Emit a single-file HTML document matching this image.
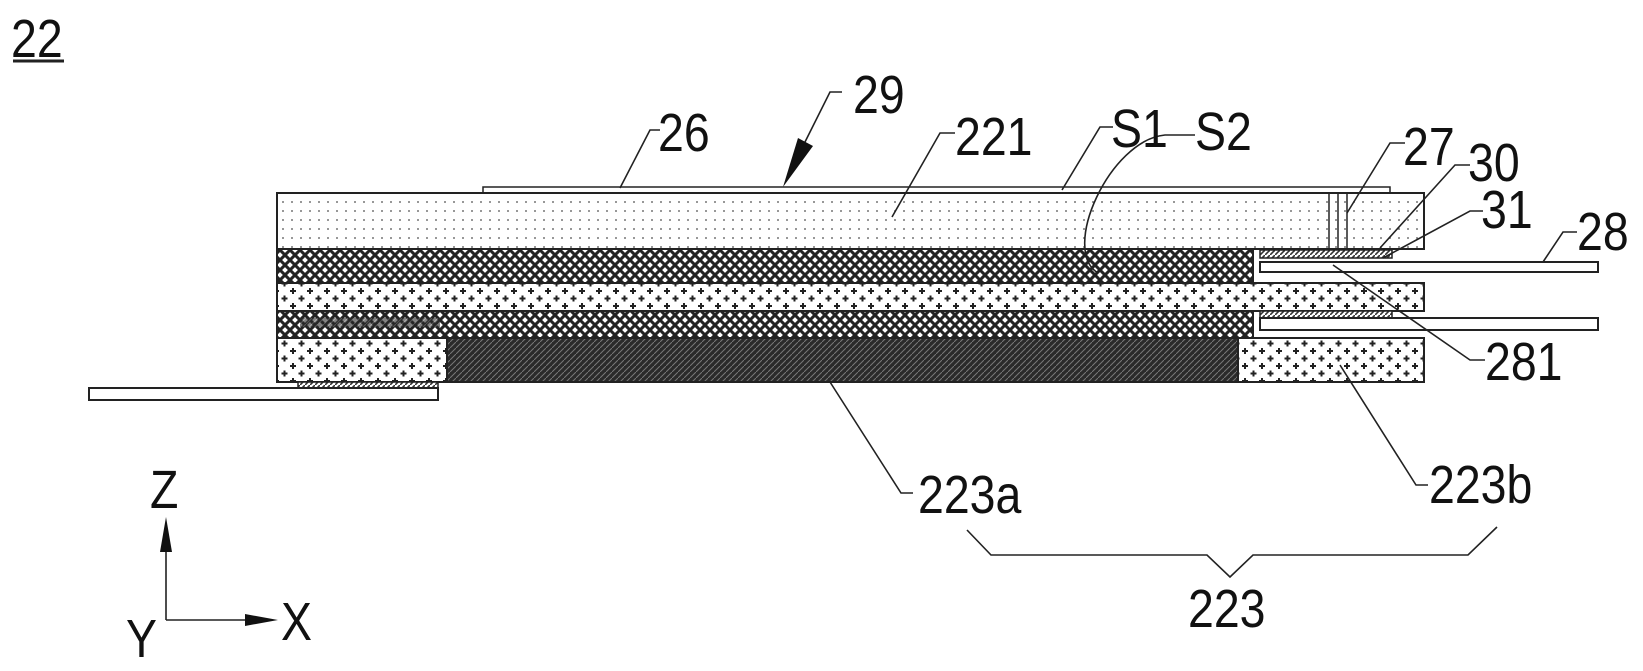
<!DOCTYPE html>
<html><head><meta charset="utf-8"><style>
html,body{margin:0;padding:0;background:#fff;}
svg{display:block;}
text{font-family:"Liberation Sans",sans-serif;font-size:54px;fill:#111;transform-box:fill-box;transform-origin:left bottom;transform:scaleX(0.86);}
</style></head><body>
<svg width="1643" height="671" viewBox="0 0 1643 671" xmlns="http://www.w3.org/2000/svg">
<defs>
<pattern id="fd" width="9" height="9" patternUnits="userSpaceOnUse"><rect width="9" height="9" fill="#fff"/><circle cx="4" cy="4" r="1" fill="#777"/></pattern>
<pattern id="pl" width="17" height="15" patternUnits="userSpaceOnUse"><rect width="17" height="15" fill="#fff"/><path d="M4 3v6M1 6h6" stroke="#222" stroke-width="2"/><path d="M12.5 10.5v6M9.5 13.5h6" stroke="#222" stroke-width="2"/><path d="M12.5 -4.5v6M9.5 -1.5h6" stroke="#222" stroke-width="2"/></pattern>
<pattern id="cx" width="10" height="10" patternUnits="userSpaceOnUse"><rect width="10" height="10" fill="#fff"/><path d="M0 0L10 10M10 0L0 10" stroke="#222" stroke-width="3"/></pattern>
<pattern id="dk" width="6" height="6" patternUnits="userSpaceOnUse"><rect width="6" height="6" fill="#2a2a2a"/><path d="M0 6L6 0" stroke="#777" stroke-width="1"/></pattern>
<pattern id="hs" width="5" height="5" patternUnits="userSpaceOnUse"><rect width="5" height="5" fill="#fff"/><path d="M0 5L5 0" stroke="#333" stroke-width="1.6"/></pattern>
</defs>
<g stroke="#222" stroke-width="2">
<rect x="483" y="187" width="907" height="6" fill="#fff" stroke-width="1.5"/>
<rect x="277" y="193" width="1147" height="56" fill="url(#fd)"/>
<line x1="1329" y1="193" x2="1329" y2="249" stroke-width="1.5"/>
<line x1="1338" y1="193" x2="1338" y2="249" stroke-width="1.5"/>
<line x1="1347" y1="193" x2="1347" y2="249" stroke-width="1.5"/>
<rect x="277" y="249" width="976" height="34" fill="url(#cx)"/>
<rect x="1260" y="250" width="132" height="8" fill="url(#hs)" stroke-width="1.5"/>
<rect x="1260" y="262" width="338" height="10" fill="#fff"/>
<rect x="277" y="283" width="1147" height="28" fill="url(#pl)"/>
<rect x="277" y="311" width="976" height="27" fill="url(#cx)"/>
<rect x="300" y="318" width="140" height="9" fill="url(#dk)" stroke="none" opacity="0.6"/>
<rect x="1260" y="311" width="132" height="7" fill="url(#hs)" stroke-width="1.5"/>
<rect x="1260" y="318" width="338" height="12" fill="#fff"/>
<rect x="277" y="338" width="170" height="44" fill="url(#pl)"/>
<rect x="447" y="338" width="791" height="44" fill="url(#dk)"/>
<rect x="1238" y="338" width="186" height="44" fill="url(#pl)"/>
<rect x="298" y="382" width="140" height="6" fill="url(#hs)" stroke-width="1.5"/>
<rect x="89" y="388" width="349" height="12" fill="#fff"/>
</g>
<g stroke="#222" stroke-width="1.6" fill="none">
<polyline points="620,188 650,130 660,130"/>
<polyline points="842,92 830,92 805,142"/>
<polyline points="892,217 940,133 955,133"/>
<polyline points="1062,190 1100,127 1113,127"/>
<path d="M1098,273 C1060,250 1110,140 1165,135 L1195,135"/>
<polyline points="1347,213 1390,143 1405,143"/>
<polyline points="1380,248 1455,165 1470,165"/>
<polyline points="1383,258 1470,211 1483,211"/>
<polyline points="1543,262 1563,232 1577,232"/>
<polyline points="1333,265 1470,360 1485,360"/>
<polyline points="830,382 901,493 913,493"/>
<polyline points="1340,365 1416,485 1428,485"/>
<polyline points="967,530 991,555 1207,555 1230,577 1253,555 1468,555 1497,527"/>
<line x1="166" y1="620" x2="166" y2="545"/>
<line x1="166" y1="620" x2="250" y2="620"/>
</g>
<polygon points="783,187 798,138 813,146" fill="#111"/>
<polygon points="166,517 160,552 172,552" fill="#111"/>
<polygon points="278,620 245,614 245,626" fill="#111"/>
<line x1="13" y1="61" x2="64" y2="61" stroke="#222" stroke-width="3"/>
<text x="11" y="57">22</text>
<text x="658" y="151">26</text>
<text x="853" y="113">29</text>
<text x="955" y="155">221</text>
<text x="1111" y="147">S1</text>
<text x="1195" y="150">S2</text>
<text x="1403" y="165">27</text>
<text x="1468" y="181">30</text>
<text x="1481" y="228">31</text>
<text x="1577" y="250">28</text>
<text x="1485" y="380">281</text>
<text x="918" y="513">223a</text>
<text x="1429" y="503">223b</text>
<text x="1188" y="627">223</text>
<text x="150" y="508">Z</text>
<text x="281" y="640">X</text>
<text x="126" y="657">Y</text>
</svg>
</body></html>
